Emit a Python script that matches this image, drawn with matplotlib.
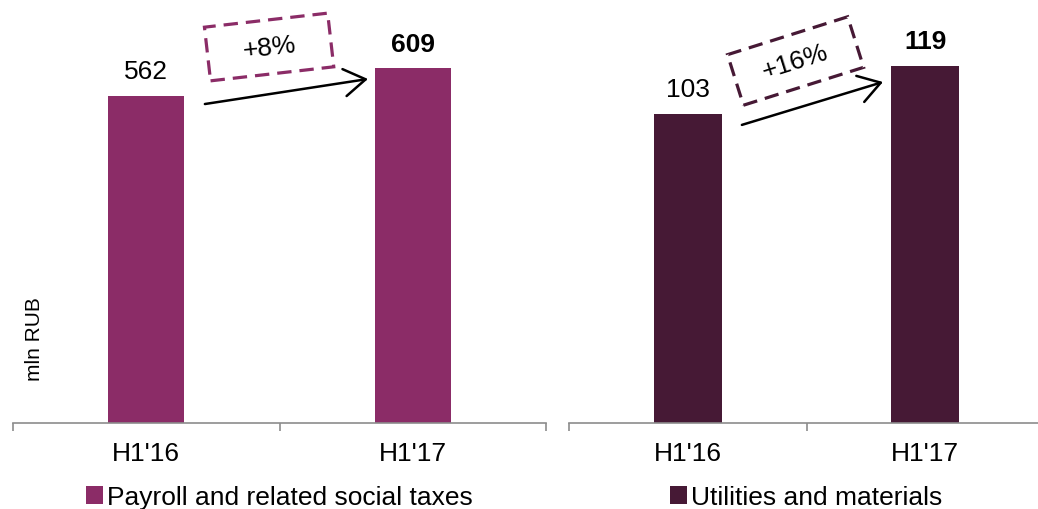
import matplotlib
matplotlib.use("Agg")
import matplotlib.pyplot as plt
from matplotlib.patches import Rectangle, Patch
from matplotlib.transforms import Affine2D

plt.rcParams['font.family'] = ['Liberation Sans', 'DejaVu Sans']

categories = ["H1'16", "H1'17"]
payroll = [562, 609]
utilities = [103, 119]
payroll_growth = "+8%"
utilities_growth = "+16%"
payroll_label = "Payroll and related social taxes"
utilities_label = "Utilities and materials"
ylabel = "mln RUB"

c_pay = "#8B2C67"
c_util = "#461935"
axis_gray = "#8C8C8C"
FS = 19

W, H = 1038, 510
fig = plt.figure(figsize=(W / 100, H / 100), dpi=100)

ax1 = fig.add_axes([13 / W, (H - 424) / H, 533 / W, 424 / H])
ax2 = fig.add_axes([569 / W, (H - 423.5) / H, 475 / W, 423.5 / H])


def style(ax, ymax):
    ax.set_xlim(-0.5, 1.5)
    ax.set_ylim(0, ymax)
    for s in ['top', 'right', 'left']:
        ax.spines[s].set_visible(False)
    ax.spines['bottom'].set_color(axis_gray)
    ax.spines['bottom'].set_linewidth(1.2)
    ax.set_yticks([])
    ax.set_xticks([-0.5, 0.5, 1.5])
    ax.set_xticklabels([])
    ax.tick_params(axis='x', which='major', direction='out', length=6,
                   width=1.2, color=axis_gray)
    ax.set_xticks([0, 1], minor=True)
    ax.set_xticklabels(categories, minor=True, fontsize=FS)
    ax.tick_params(axis='x', which='minor', length=0, pad=13)
    ax.patch.set_alpha(0)


style(ax1, 424 / 0.5825)
style(ax2, 423.5 / 3.0)

x = range(len(categories))
ax1.bar(x, payroll, width=0.285, color=c_pay)
ax2.bar(x, utilities, width=0.286, color=c_util)

for ax, vals in [(ax1, payroll), (ax2, utilities)]:
    for i, v in enumerate(vals):
        ax.annotate(str(v), xy=(i, v), xytext=(0, 12.5), textcoords='offset points',
                    ha='center', va='baseline', fontsize=FS,
                    fontweight='bold' if i == 1 else 'normal')

# growth arrows
arrow_style = dict(arrowstyle='->,head_length=0.55,head_width=0.35', lw=1.8,
                   color='black', mutation_scale=28, shrinkA=0, shrinkB=0)
ax1.annotate('', xy=(0.832, 590.6), xytext=(0.220, 547.6), arrowprops=arrow_style)
ax2.annotate('', xy=(0.822, 113.5), xytext=(0.228, 99.2), arrowprops=arrow_style)


def growth_box(ax, cx, cy, w, h, angle, txt, color):
    px, py = ax.transData.transform((cx, cy))
    tr = Affine2D().rotate_deg(angle).translate(px, py)
    rect = Rectangle((-w / 2, -h / 2), w, h, transform=tr, fill=False,
                     edgecolor=color, lw=2.3, linestyle=(0, (4.5, 2.5)),
                     clip_on=False)
    fig.add_artist(rect)
    ax.text(cx, cy, txt, ha='center', va='center', rotation=angle,
            rotation_mode='anchor', fontsize=FS)


growth_box(ax1, 0.461, 645.5, 124, 54, 6.5, payroll_growth, c_pay)
growth_box(ax2, 0.454, 120.5, 126, 53, 17.5, utilities_growth, c_util)

ax1.text(0.041, 0.2, ylabel, transform=ax1.transAxes, rotation=90,
         ha='center', va='center', fontsize=15)

for ax, lab, col, yy in [(ax1, payroll_label, c_pay, -0.1745),
                         (ax2, utilities_label, c_util, -0.176)]:
    ax.legend(handles=[Patch(facecolor=col, label=lab)], loc='center',
              bbox_to_anchor=(0.5, yy), frameon=False, fontsize=FS,
              handlelength=0.65, handleheight=0.65, handletextpad=0.15,
              borderpad=0, borderaxespad=0)

fig.savefig("out.png", dpi=100)
